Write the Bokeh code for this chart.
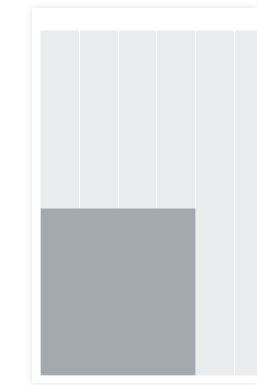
from bokeh.plotting import figure
from bokeh.models import Range1d, FixedTicker
from bokeh.embed import file_html
from bokeh.resources import INLINE

# data
bar_left = [0]
bar_right = [4]
bar_bottom = [0]
bar_top = [48.4]
x_ticks = [1, 2, 3, 4, 5]

p = figure(width=225, height=375, output_backend="svg", toolbar_location=None,
           x_range=Range1d(0, 5.6), y_range=Range1d(0, 100),
           min_border_left=8, min_border_right=0, min_border_top=22, min_border_bottom=8)
p.styles = {"margin-left": "32px", "margin-top": "8px",
            "box-shadow": "0 0 7px rgba(0,0,0,0.13)"}
p.background_fill_color = "#ebecee"
p.border_fill_color = "#ffffff"
p.outline_line_color = None
p.xaxis.visible = False
p.yaxis.visible = False
p.xgrid.ticker = FixedTicker(ticks=x_ticks)
p.xgrid.grid_line_color = "#ffffff"
p.xgrid.grid_line_width = 1
p.ygrid.visible = False

p.quad(left=bar_left, right=bar_right, bottom=bar_bottom, top=bar_top,
       fill_color="#a4a9b0", line_color=None)

open("out.html", "w").write(file_html(p, INLINE))
